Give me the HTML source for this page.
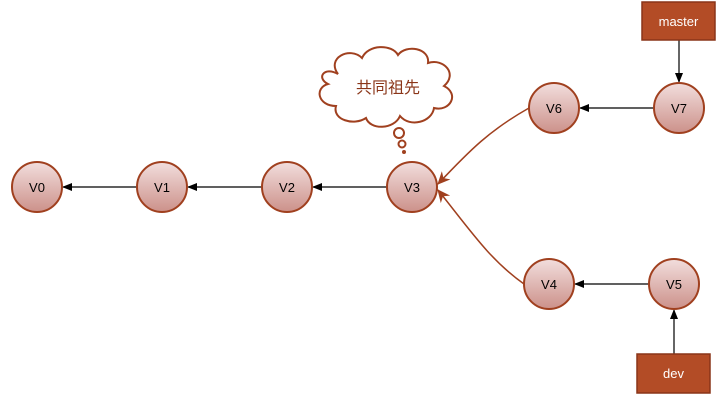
<!DOCTYPE html>
<html><head><meta charset="utf-8"><style>body{margin:0;background:#fff}svg{display:block}</style></head><body>
<svg width="718" height="400" viewBox="0 0 718 400" xmlns="http://www.w3.org/2000/svg">
<defs>
<linearGradient id="g" x1="0" y1="0" x2="0" y2="1"><stop offset="0" stop-color="#f2dedd"/><stop offset="1" stop-color="#cc918a"/></linearGradient>
<marker id="ab" markerWidth="10" markerHeight="8" refX="9" refY="4" orient="auto" markerUnits="userSpaceOnUse"><path d="M0,0 L10,4 L0,8 Z" fill="#000"/></marker>
<marker id="ar" markerWidth="14" markerHeight="12" refX="12" refY="6" orient="auto" markerUnits="userSpaceOnUse"><path d="M0,0 L13,6 L0,12 L4,6 Z" fill="#a0401f"/></marker>
</defs>
<g stroke="#000" stroke-width="1.2" marker-end="url(#ab)">
<line x1="137" y1="187" x2="63" y2="187"/>
<line x1="262" y1="187" x2="188" y2="187"/>
<line x1="387" y1="187" x2="313" y2="187"/>
<line x1="654" y1="108" x2="580" y2="108"/>
<line x1="649" y1="284" x2="575" y2="284"/>
<line x1="679" y1="40" x2="679" y2="82"/>
<line x1="674" y1="354" x2="674" y2="310"/>
</g>
<g stroke="#a0401f" stroke-width="1.5" fill="none" marker-end="url(#ar)">
<path d="M529,108 C490,130 470,150 438,184"/>
<path d="M524,284 C490,260 470,230 438,190"/>
</g>
<g stroke="#a0401f" stroke-width="2" fill="url(#g)">
<circle cx="37" cy="187" r="25"/><circle cx="162" cy="187" r="25"/><circle cx="287" cy="187" r="25"/><circle cx="412" cy="187" r="25"/>
<circle cx="554" cy="108" r="25"/><circle cx="679" cy="108" r="25"/><circle cx="549" cy="284" r="25"/><circle cx="674" cy="284" r="25"/>
</g>
<g font-family="Liberation Sans, sans-serif" font-size="13" text-anchor="middle" fill="#000">
<text x="37" y="192">V0</text><text x="162" y="192">V1</text><text x="287" y="192">V2</text><text x="412" y="192">V3</text>
<text x="554" y="113">V6</text><text x="679" y="113">V7</text><text x="549" y="289">V4</text><text x="674" y="289">V5</text>
</g>
<rect x="642" y="2" width="73" height="38" fill="#b34c26" stroke="#8a3518" stroke-width="1.5"/>
<text x="678.5" y="26" font-family="Liberation Sans, sans-serif" font-size="13" fill="#fff" text-anchor="middle">master</text>
<rect x="637" y="354" width="73" height="39" fill="#b34c26" stroke="#8a3518" stroke-width="1.5"/>
<text x="673.5" y="378" font-family="Liberation Sans, sans-serif" font-size="13" fill="#fff" text-anchor="middle">dev</text>
<path d="M338,74 C326,58 350,46 362,58 C368,44 392,44 398,55 C406,44 430,48 428,63 C444,58 458,74 444,86 C460,94 450,112 434,108 C432,122 410,128 400,116 C394,130 370,130 366,118 C354,126 332,120 336,106 C318,106 314,88 328,84 C316,78 324,66 338,74 Z" fill="#fff" stroke="#a0401f" stroke-width="2"/>
<text x="388" y="93" font-family="Liberation Sans, Noto Sans CJK SC, sans-serif" font-size="16" fill="#8a3518" text-anchor="middle">共同祖先</text>
<circle cx="399" cy="133" r="5" fill="#fff" stroke="#a0401f" stroke-width="2"/>
<circle cx="402" cy="144" r="3.5" fill="#fff" stroke="#a0401f" stroke-width="2"/>
<circle cx="404" cy="152" r="2" fill="#a0401f"/>
</svg>
</body></html>
